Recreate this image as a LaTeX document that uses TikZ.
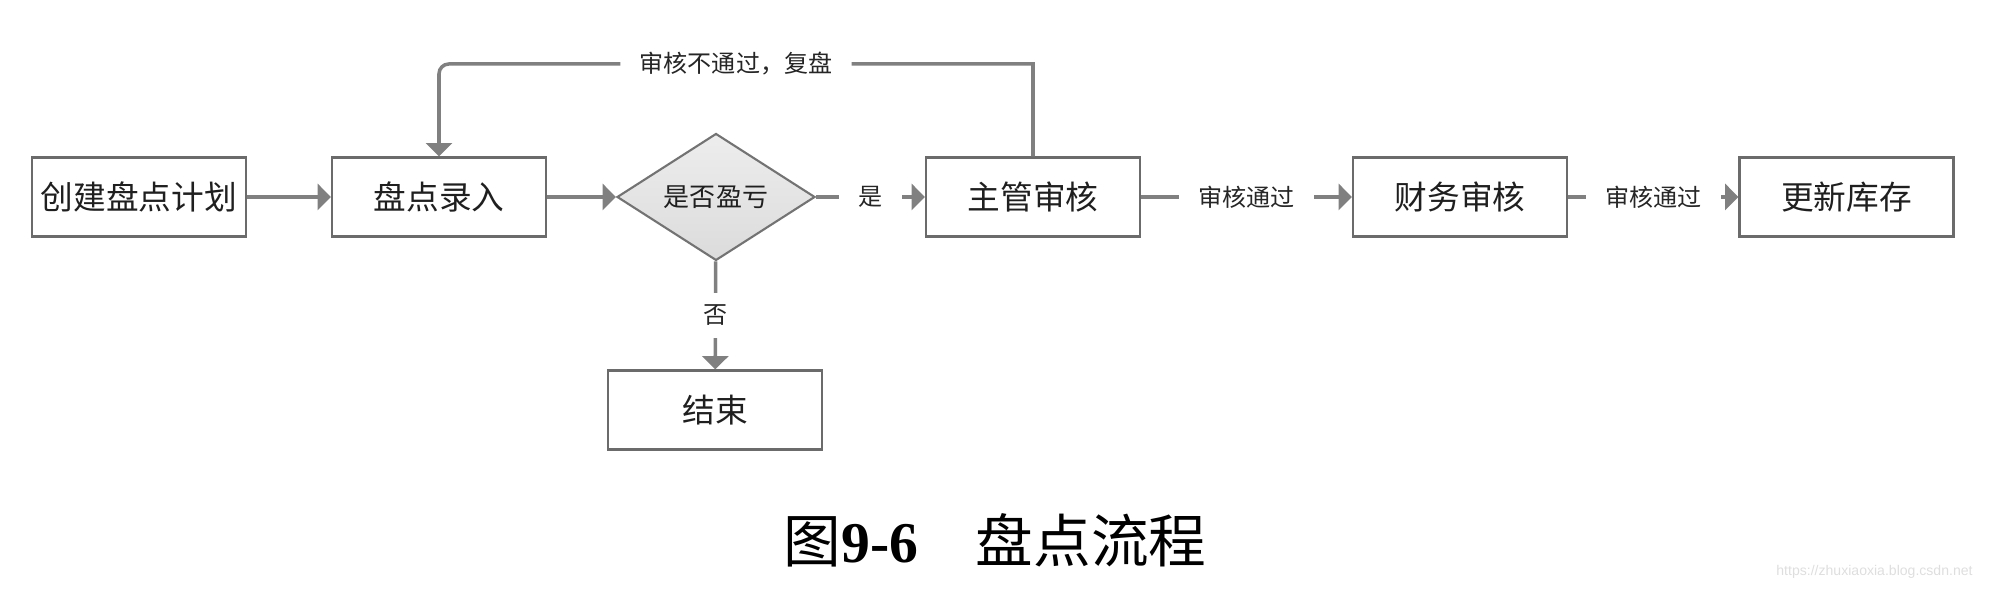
\documentclass[tikz,border=0pt]{standalone}
\usepackage{fontspec}
\setmainfont{Noto Sans CJK SC}
\newfontfamily\numfont{Liberation Serif}
\newfontfamily\webfont{Liberation Sans}
\usetikzlibrary{arrows.meta,shapes.geometric}
\begin{document}
\begin{tikzpicture}[
		box/.style={draw=black!58,line width=0.6pt,minimum width=2.14cm,minimum height=0.79cm,inner sep=0pt,text=black!88,font=\fontsize{9.3}{11}\selectfont},
		decision/.style={diamond,draw=black!55,line width=0.6pt,minimum width=1.98cm,minimum height=1.16cm,inner sep=0pt,top color=black!7,bottom color=black!14,text=black!88,font=\fontsize{7.4}{9}\selectfont},
		flow/.style={draw=black!50,line width=1pt,-{Triangle[length=3.8pt,width=7.4pt]}},
		lbl/.style={fill=white,inner xsep=5.5pt,inner ysep=3.5pt,text=black!85,font=\fontsize{6.85}{8}\selectfont}
	]
	\useasboundingbox (0,0) rectangle (19.96,5.90);
	
	\node[box] (plan) at (1.39,3.93) {创建盘点计划};
	\node[box] (entry) at (4.39,3.93) {盘点录入};
	\node[decision] (check) at (7.16,3.93) {是否盈亏};
	\node[box] (sup) at (10.33,3.93) {主管审核};
	\node[box] (fin) at (14.60,3.93) {财务审核};
	\node[box] (upd) at (18.465,3.93) {更新库存};
	\node[box] (stop) at (7.15,1.80) {结束};
	
	\draw[flow] (plan) -- (entry);
	\draw[flow] (entry) -- (check);
	\draw[flow] (check) -- node[lbl] {是} (sup);
	\draw[flow] (sup) -- node[lbl] {审核通过} (fin);
	\draw[flow] (fin) -- node[lbl] {审核通过} (upd);
	\draw[flow] (check) -- node[lbl] {否} (stop);
	
	% back to entry when the review fails
	\coordinate (turn) at (4.39,5.26);
	\draw[flow] (sup.north) -- (sup.north |- turn) [rounded corners=2.8pt] -- node[lbl] {审核不通过，复盘} (turn) -- (entry.north);
	
	\node[font=\fontsize{16.4}{19}\selectfont] (title) at (9.95,0.50) {图{\numfont\bfseries 9-6}\quad 盘点流程};
	\node[text=black!13,font=\webfont\fontsize{4}{5}\selectfont] (mark) at (18.745,0.18) {https://zhuxiaoxia.blog.csdn.net};
\end{tikzpicture}
\end{document}
